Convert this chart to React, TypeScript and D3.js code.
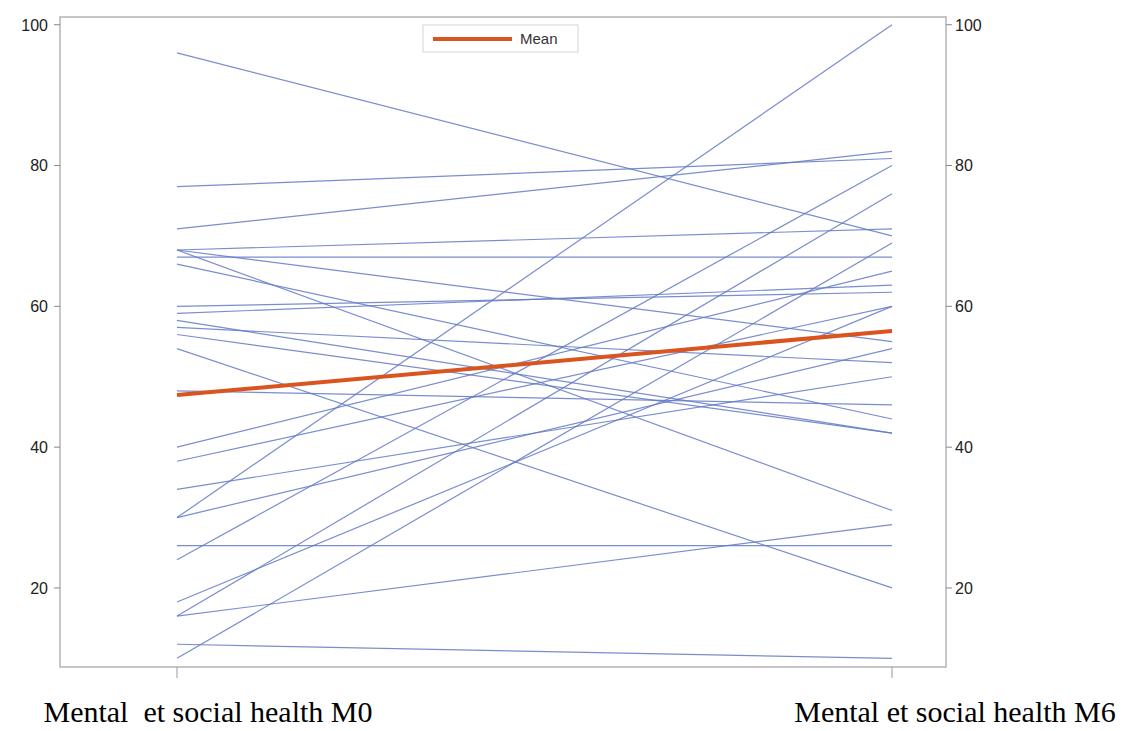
import React from "react";
import * as d3 from "d3";

const categories = ["Mental  et social health M0", "Mental et social health M6"];
const scoreM0 = [96, 77, 71, 68, 67, 68, 68, 66, 54, 26, 16, 12, 30, 10, 24, 16, 34, 30, 40, 38, 18, 60, 59, 57, 58, 56, 48];
const scoreM6 = [70, 81, 82, 71, 67, 31, 55, 44, 20, 26, 29, 10, 100, 69, 80, 76, 50, 54, 65, 60, 60, 62, 63, 52, 42, 42, 46];
const meanValues = [47.4, 56.5];
const yTicks = [20, 40, 60, 80, 100];

const W = 1134;
const H = 731;
const frame = { left: 60, right: 946, top: 17, bottom: 667 };

export default function App() {
  const x = d3.scalePoint<string>().domain(categories).range([177, 892]);
  const y = d3.scaleLinear().domain([8.77, 101.1]).range([frame.bottom, frame.top]);
  const line = d3
    .line<[string, number]>()
    .x((d) => x(d[0]) as number)
    .y((d) => y(d[1]));

  const subjects = scoreM0.map((v, i) => [
    [categories[0], v],
    [categories[1], scoreM6[i]],
  ] as [string, number][]);
  const meanLine = categories.map((c, i) => [c, meanValues[i]] as [string, number]);

  const axisFont = "'Liberation Sans', Arial, sans-serif";
  const serif = "'Liberation Serif', 'Times New Roman', serif";
  return (
    <svg
      width={W}
      height={H}
      style={{ position: "absolute", left: 0, top: 0, background: "#fff" }}
    >
      <rect
        x={frame.left}
        y={frame.top}
        width={frame.right - frame.left}
        height={frame.bottom - frame.top}
        fill="none"
        stroke="#b4b4b4"
        strokeWidth={1.5}
      />
      {yTicks.map((t) => (
        <g key={t}>
          <line x1={frame.left - 6} x2={frame.left} y1={y(t)} y2={y(t)} stroke="#888" />
          <text
            x={frame.left - 12}
            y={y(t)}
            dy="0.36em"
            textAnchor="end"
            fontFamily={axisFont}
            fontSize={16}
            fill="#222"
          >
            {t}
          </text>
          <line x1={frame.right} x2={frame.right + 6} y1={y(t)} y2={y(t)} stroke="#888" />
          <text
            x={frame.right + 9}
            y={y(t)}
            dy="0.36em"
            textAnchor="start"
            fontFamily={axisFont}
            fontSize={16}
            fill="#222"
          >
            {t}
          </text>
        </g>
      ))}
      {categories.map((c) => (
        <line
          key={c}
          x1={x(c) as number}
          x2={x(c) as number}
          y1={frame.bottom}
          y2={frame.bottom + 11}
          stroke="#999"
        />
      ))}
      {subjects.map((s, i) => (
        <path
          key={i}
          d={line(s) || ""}
          fill="none"
          stroke="#6379c6"
          strokeOpacity={0.85}
          strokeWidth={1.2}
        />
      ))}
      <path d={line(meanLine) || ""} fill="none" stroke="#d9541e" strokeWidth={4} />
      <g>
        <rect x={423} y={25} width={155} height={27} fill="#fff" stroke="#d4d4d4" />
        <line x1={433} x2={512} y1={39} y2={39} stroke="#d9541e" strokeWidth={4} />
        <text x={520} y={39} dy="0.35em" fontFamily={axisFont} fontSize={15} fill="#333">
          Mean
        </text>
      </g>
      <text
        x={208}
        y={722}
        textAnchor="middle"
        fontFamily={serif}
        fontSize={30}
        fill="#000"
        style={{ whiteSpace: "pre" }}
      >
        {categories[0]}
      </text>
      <text
        x={955}
        y={722}
        textAnchor="middle"
        fontFamily={serif}
        fontSize={30}
        fill="#000"
      >
        {categories[1]}
      </text>
    </svg>
  );
}
